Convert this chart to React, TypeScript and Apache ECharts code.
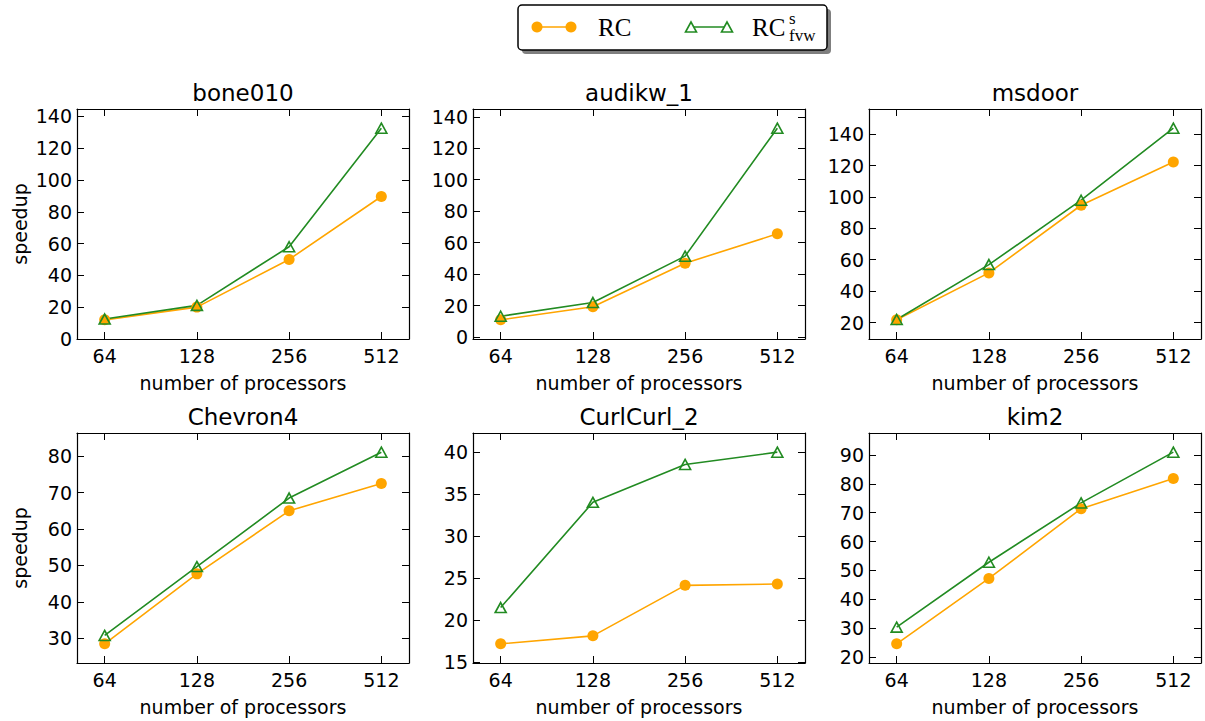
import React, { useEffect, useRef } from "react";
import * as echarts from "echarts";

// ---------- data ----------
const processors = ["64", "128", "256", "512"];
const panelTitles = ["bone010", "audikw_1", "msdoor", "Chevron4", "CurlCurl_2", "kim2"];

const rcBone010 = [12.0, 20.0, 50.0, 89.6];
const rcsBone010 = [12.5, 21.1, 58.0, 132.6];
const rcAudikw1 = [10.9, 19.2, 46.9, 65.6];
const rcsAudikw1 = [13.2, 21.9, 51.4, 132.8];
const rcMsdoor = [21.7, 51.6, 94.7, 122.3];
const rcsMsdoor = [21.9, 56.9, 97.9, 143.8];
const rcChevron4 = [28.5, 47.7, 65.0, 72.5];
const rcsChevron4 = [30.8, 49.7, 68.5, 81.1];
const rcCurlCurl2 = [17.19, 18.14, 24.14, 24.3];
const rcsCurlCurl2 = [21.5, 34.0, 38.5, 39.96];
const rcKim2 = [24.5, 47.2, 71.4, 81.9];
const rcsKim2 = [30.3, 52.8, 73.4, 91.0];

const rcSeries = [rcBone010, rcAudikw1, rcMsdoor, rcChevron4, rcCurlCurl2, rcKim2];
const rcsSeries = [rcsBone010, rcsAudikw1, rcsMsdoor, rcsChevron4, rcsCurlCurl2, rcsKim2];
const yTickSteps = [20, 20, 20, 10, 5, 10];

const seriesNames = ["RC", "RC_fvw^s"];
const xAxisLabel = "number of processors";
const yAxisLabel = "speedup";

// ---------- style ----------
const ORANGE = "#FFA500";
const GREEN = "#228B22";
const FONT = "DejaVu Sans";
const SERIF = "Liberation Serif";

const gridLefts = [77, 473, 869];
const gridTops = [109, 433];
const gridW = 332;
const gridH = 230;

function buildOption() {
  const grids: any[] = [];
  const xAxes: any[] = [];
  const yAxes: any[] = [];
  const series: any[] = [];
  const titles: any[] = [];

  for (let i = 0; i < 6; i++) {
    const col = i % 3;
    const row = Math.floor(i / 3);
    const left = gridLefts[col];
    const top = gridTops[row];
    grids.push({ left, top, width: gridW, height: gridH, containLabel: false, show: false });

    const all = [...rcSeries[i], ...rcsSeries[i]];
    const lo = Math.min(...all);
    const hi = Math.max(...all);
    const r = hi - lo;
    const ymin = lo - 0.1 * r;
    const ymax = hi + 0.1 * r;
    const step = yTickSteps[i];
    const yTicks: number[] = [];
    for (let v = Math.ceil(ymin / step) * step; v <= ymax + 1e-9; v += step) yTicks.push(v);
    const xTicks = processors.map((_, k) => k);

    const lineCommon = { show: true, onZero: false, lineStyle: { color: "#000", width: 1.2 } };
    const tickCommon = { show: true, inside: true, length: 7, lineStyle: { color: "#000", width: 1 } };

    // bottom x
    xAxes.push({
      type: "value",
      gridIndex: i,
      position: "bottom",
      min: -0.3,
      max: 3.3,
      axisLine: lineCommon,
      axisTick: { ...tickCommon, customValues: xTicks },
      splitLine: { show: false },
      axisLabel: {
        customValues: xTicks,
        formatter: (v: number) => processors[Math.round(v)] ?? "",
        fontFamily: FONT,
        fontSize: 19,
        color: "#000",
        margin: 7,
      },
      name: xAxisLabel,
      nameLocation: "middle",
      nameGap: 34,
      nameTextStyle: { fontFamily: FONT, fontSize: 19, color: "#000" },
    });
    // top x (mirror ticks)
    xAxes.push({
      type: "value",
      gridIndex: i,
      position: "top",
      min: -0.3,
      max: 3.3,
      axisLine: lineCommon,
      axisTick: { ...tickCommon, customValues: xTicks },
      splitLine: { show: false },
      axisLabel: { show: false },
    });
    // left y
    yAxes.push({
      type: "value",
      gridIndex: i,
      position: "left",
      min: ymin,
      max: ymax,
      axisLine: lineCommon,
      axisTick: { ...tickCommon, customValues: yTicks },
      splitLine: { show: false },
      axisLabel: {
        customValues: yTicks,
        formatter: (v: number) => String(Math.round(v)),
        fontFamily: FONT,
        fontSize: 19,
        color: "#000",
        margin: 5,
      },
      ...(col === 0
        ? {
            name: yAxisLabel,
            nameLocation: "middle",
            nameGap: 48,
            nameRotate: 90,
            nameTextStyle: { fontFamily: FONT, fontSize: 19, color: "#000" },
          }
        : {}),
    });
    // right y (mirror ticks)
    yAxes.push({
      type: "value",
      gridIndex: i,
      position: "right",
      min: ymin,
      max: ymax,
      axisLine: lineCommon,
      axisTick: { ...tickCommon, customValues: yTicks },
      splitLine: { show: false },
      axisLabel: { show: false },
    });

    series.push({
      name: seriesNames[0],
      type: "line",
      xAxisIndex: 2 * i,
      yAxisIndex: 2 * i,
      data: rcSeries[i].map((v, k) => [k, v]),
      symbol: "circle",
      symbolSize: 11,
      lineStyle: { color: ORANGE, width: 1.6 },
      itemStyle: { color: ORANGE, borderWidth: 0 },
      emphasis: { disabled: true },
    });
    series.push({
      name: seriesNames[1],
      type: "line",
      xAxisIndex: 2 * i,
      yAxisIndex: 2 * i,
      data: rcsSeries[i].map((v, k) => [k, v]),
      symbol: "triangle",
      symbolSize: [11, 10],
      lineStyle: { color: GREEN, width: 1.6 },
      itemStyle: { color: "rgba(255,255,255,0)", borderColor: GREEN, borderWidth: 1.6 },
      emphasis: { disabled: true },
    });

    titles.push({
      text: panelTitles[i],
      left: left + gridW / 2,
      top: top - 28,
      textAlign: "center",
      padding: 0,
      textStyle: { fontFamily: FONT, fontSize: 23, fontWeight: "normal", color: "#000" },
    });
  }

  // legend drawn as graphic (matplotlib style with two markers per entry)
  const ly = 27;
  const graphic: any[] = [
    { type: "rect", shape: { x: 522, y: 9, width: 309, height: 45, r: 4 }, style: { fill: "#7f7f7f" }, z: 100 },
    { type: "rect", shape: { x: 518, y: 5, width: 309, height: 45, r: 4 }, style: { fill: "#fff", stroke: "#000", lineWidth: 1.5 }, z: 101 },
    { type: "line", shape: { x1: 537, y1: ly, x2: 571, y2: ly }, style: { stroke: ORANGE, lineWidth: 1.6 }, z: 102 },
    { type: "circle", shape: { cx: 537, cy: ly, r: 5.5 }, style: { fill: ORANGE }, z: 102 },
    { type: "circle", shape: { cx: 571, cy: ly, r: 5.5 }, style: { fill: ORANGE }, z: 102 },
    {
      type: "text", x: 598, y: ly, z: 102,
      style: { text: "RC", fontFamily: SERIF, fontSize: 25, fill: "#000", align: "left", verticalAlign: "middle" },
    },
    { type: "line", shape: { x1: 691, y1: ly, x2: 727, y2: ly }, style: { stroke: GREEN, lineWidth: 1.6 }, z: 102 },
    { type: "polygon", shape: { points: [[691, ly - 5], [685.5, ly + 5], [696.5, ly + 5]] }, style: { fill: "#fff", stroke: GREEN, lineWidth: 1.6 }, z: 103 },
    { type: "polygon", shape: { points: [[727, ly - 5], [721.5, ly + 5], [732.5, ly + 5]] }, style: { fill: "#fff", stroke: GREEN, lineWidth: 1.6 }, z: 103 },
    {
      type: "text", x: 752, y: ly, z: 102,
      style: { text: "RC", fontFamily: SERIF, fontSize: 25, fill: "#000", align: "left", verticalAlign: "middle" },
    },
    {
      type: "text", x: 789, y: 18, z: 102,
      style: { text: "s", fontFamily: SERIF, fontSize: 17, fill: "#000", align: "left", verticalAlign: "middle" },
    },
    {
      type: "text", x: 789, y: 35, z: 102,
      style: { text: "fvw", fontFamily: SERIF, fontSize: 17, fill: "#000", align: "left", verticalAlign: "middle" },
    },
  ];

  return {
    animation: false,
    backgroundColor: "#fff",
    title: titles,
    grid: grids,
    xAxis: xAxes,
    yAxis: yAxes,
    series,
    graphic,
  };
}

export default function App() {
  const ref = useRef<HTMLDivElement>(null);
  useEffect(() => {
    if (!ref.current) return;
    const chart = echarts.init(ref.current, undefined, { renderer: "svg" });
    chart.setOption(buildOption() as any);
    return () => chart.dispose();
  }, []);
  return (
    <div
      ref={ref}
      style={{ position: "fixed", left: 0, top: 0, width: 1205, height: 721, background: "#fff" }}
    />
  );
}
